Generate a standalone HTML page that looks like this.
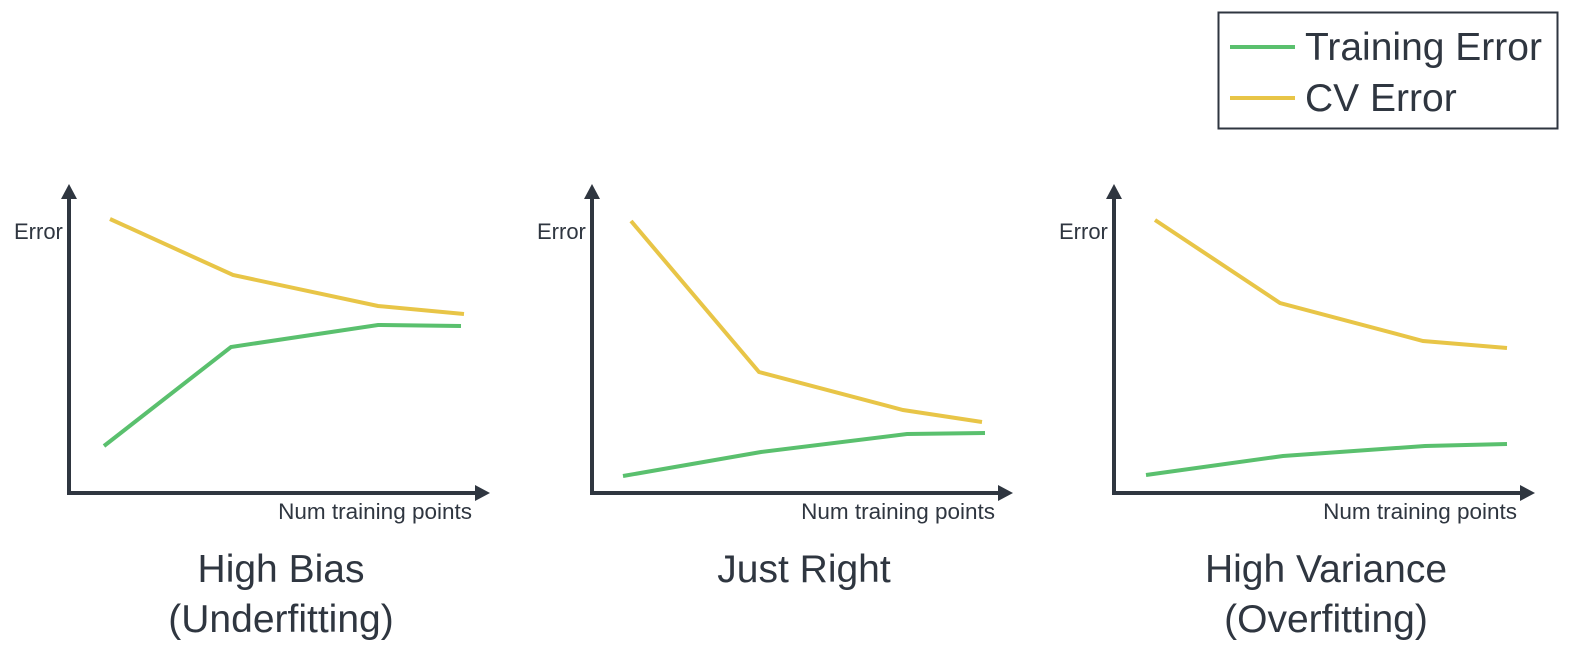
<!DOCTYPE html>
<html><head><meta charset="utf-8"><style>
html,body{margin:0;padding:0;background:#fff;}
svg{display:block;font-family:"Liberation Sans",Arial,sans-serif;}
</style></head><body>
<svg id="chart" width="1578" height="650" viewBox="0 0 1578 650" xmlns="http://www.w3.org/2000/svg">
<g>
<rect x="1218.5" y="12.5" width="339" height="116" fill="#fff" stroke="#2f3640" stroke-width="2"/>
<line x1="1230" y1="47" x2="1295" y2="47" stroke="#5ac06e" stroke-width="4"/>
<text x="1305" y="60" font-size="39" fill="#2f3640">Training Error</text>
<line x1="1230" y1="98" x2="1295" y2="98" stroke="#e8c547" stroke-width="4"/>
<text x="1305" y="111" font-size="39" fill="#2f3640">CV Error</text>
</g>
<g id="panels"></g>
</svg>
<script>
// Data (x: training points, y: error), per panel
const panelTitles = [["High Bias","(Underfitting)"],["Just Right"],["High Variance","(Overfitting)"]];
const cvX = [[41,164,309,395],[39,167,311,390],[41,166,309,393]];
const cvY = [[274,218,187,179],[272,121,83,71],[273,190,152,145]];
const trainX = [[35,162,309,392],[31,169,315,393],[32,169,311,393]];
const trainY = [[47,146,168,167],[17,41,59,60],[18,37,47,49]];
const originsX = [69,592,1114];
const originY = 493;
const NS = "http://www.w3.org/2000/svg";
const root = document.getElementById('panels');
function xScale(p,v){return originsX[p]+v;}
function yScale(v){return originY-v;}
function mk(tag,attrs,parent){const e=document.createElementNS(NS,tag);for(const k in attrs)e.setAttribute(k,attrs[k]);parent.appendChild(e);return e;}
for(let p=0;p<3;p++){
  const g=mk('g',{},root);
  
  
  const ox=originsX[p];
  const ya=mk('path',{d:`M${ox} ${originY} V192`,stroke:'#2f3640','stroke-width':4,fill:'none'},g);
  
  
  const yh=mk('polygon',{points:`${ox-8},199 ${ox},184 ${ox+8},199`,fill:'#2f3640'},g);
  
  
  const xa=mk('path',{d:`M${ox-2} ${originY} H${ox+408}`,stroke:'#2f3640','stroke-width':4,fill:'none'},g);
  
  
  const xh=mk('polygon',{points:`${ox+406},${originY-8} ${ox+421},${originY} ${ox+406},${originY+8}`,fill:'#2f3640'},g);
  
  
  const yt=mk('text',{x:ox-55,y:239,'font-size':22,fill:'#2f3640'},g);yt.textContent='Error';
  
  
  const xt=mk('text',{x:ox+403,y:519,'font-size':22.5,fill:'#2f3640','text-anchor':'end'},g);xt.textContent='Num training points';
  
  
  const cv=mk('polyline',{points:cvX[p].map((x,i)=>xScale(p,x)+','+yScale(cvY[p][i])).join(' '),fill:'none',stroke:'#e8c547','stroke-width':4},g);
  
  
  const tr=mk('polyline',{points:trainX[p].map((x,i)=>xScale(p,x)+','+yScale(trainY[p][i])).join(' '),fill:'none',stroke:'#5ac06e','stroke-width':4},g);
  
  
  panelTitles[p].forEach((line,i)=>{
    const t=mk('text',{x:ox+212,y:582+i*50,'font-size':39,fill:'#2f3640','text-anchor':'middle'},g);
    t.textContent=line;
    
    
  });
}
</script>
</body></html>
